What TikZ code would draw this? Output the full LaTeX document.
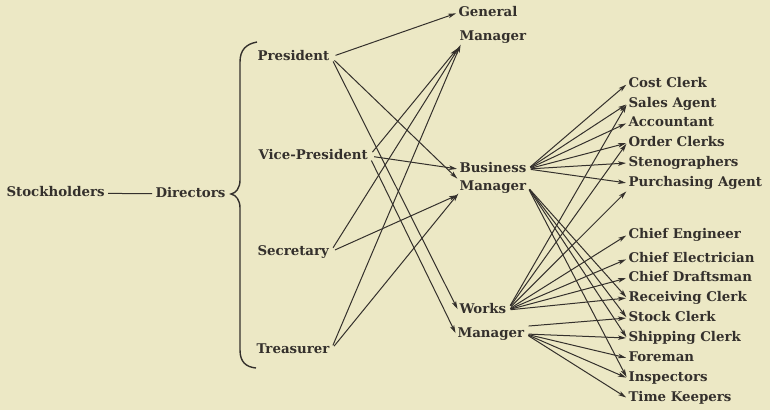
\documentclass[tikz,border=0pt]{standalone}
\usepackage{fontspec}
\setmainfont{DejaVu Serif}
\usetikzlibrary{arrows.meta}
\definecolor{paper}{RGB}{236,232,197}
\definecolor{ink}{RGB}{52,48,44}
\begin{document}
\begin{tikzpicture}[x=1bp,y=-1bp,
  lbl/.style={inner sep=1.5bp, outer sep=0pt, anchor=west, text=ink,
    font=\fontsize{13.4}{15}\selectfont\bfseries, text height=10bp, text depth=2.5bp},
  link/.style={draw=ink, line width=1bp},
  arr/.style={link, -{Stealth[length=8bp,width=4.5bp,inset=2bp]}, shorten >=1bp, shorten <=5bp}]
\fill[paper] (0,0) rectangle (770,410);
\useasboundingbox (0,0) rectangle (770,410);

% owners and board
\node[lbl] (stock) at (5,193) {Stockholders};
\node[lbl] (dirs) at (154,194) {Directors};
\draw[link, shorten <=2bp, shorten >=2bp] (stock) -- (dirs);

% officers
\node[lbl] (pres) at (256,57) {President};
\node[lbl] (vp) at (257,156) {Vice-President};
\node[lbl] (sec) at (256,252) {Secretary};
\node[lbl] (tre) at (255,350) {Treasurer};

% brace gathering the officers
\draw[ink, line width=1.4bp] (257,42) .. controls (246,44) and (240,50) .. (240,62)
  -- (240,180) .. controls (240,188) and (236,193) .. (231,194)
  .. controls (236,195) and (240,200) .. (240,208)
  -- (240,350) .. controls (240,362) and (246,367) .. (256,368);

% managers
\node[lbl] (gm1) at (457,13) {General};
\node[lbl] (gm2) at (458,37) {Manager};
\node[lbl] (bm1) at (458,169) {Business};
\node[lbl] (bm2) at (458,187) {Manager};
\node[lbl] (wm1) at (458,310) {Works};
\node[lbl] (wm2) at (456,334) {Manager};

% office staff
\node[lbl] (cc) at (627,84) {Cost Clerk};
\node[lbl] (sa) at (627,104) {Sales Agent};
\node[lbl] (ac) at (627,123) {Accountant};
\node[lbl] (oc) at (627,143) {Order Clerks};
\node[lbl] (st) at (627,163) {Stenographers};
\node[lbl] (pa) at (627,183) {Purchasing Agent};

% works staff
\node[lbl] (ce) at (627,235) {Chief Engineer};
\node[lbl] (cel) at (627,259) {Chief Electrician};
\node[lbl] (cd) at (627,278) {Chief Draftsman};
\node[lbl] (rc) at (627,298) {Receiving Clerk};
\node[lbl] (sk) at (627,318) {Stock Clerk};
\node[lbl] (sh) at (627,338) {Shipping Clerk};
\node[lbl] (fm) at (627,358) {Foreman};
\node[lbl] (ins) at (627,378) {Inspectors};
\node[lbl] (tk) at (627,398) {Time Keepers};

% officers to managers
\draw[arr] (pres.east) -- (gm1.west);
\draw[arr] (pres.east) -- (bm2.north west);
\draw[arr] (pres.east) -- (wm1.west);
\draw[arr] (vp.east) -- ([yshift=-3bp]gm2.south west);
\draw[arr] (vp.east) -- (bm1.west);
\draw[arr] (vp.east) -- (wm2.west);
\draw[arr] (sec.east) -- ([xshift=2bp,yshift=-1bp]gm2.south west);
\draw[arr] (sec.east) -- (bm2.south west);
\draw[arr] (tre.east) -- ([xshift=3bp,yshift=1bp]gm2.south west);
\draw[arr] (tre.east) -- ([xshift=1bp,yshift=2bp]bm2.south west);

% business manager
\foreach \t in {cc,sa,ac,oc,st,pa}
  \draw[arr, shorten <=3bp] (bm1.east) -- (\t.west);
\foreach \t in {rc,sk,sh,ins}
  \draw[arr, shorten <=3bp] (bm2.east) -- (\t.west);

% works manager
\draw[arr] (wm1.east) -- (sa.west);
\draw[arr] (wm1.east) -- (oc.west);
\draw[arr] (wm1.east) -- (pa.south west);
\foreach \t in {ce,cel,cd,rc}
  \draw[arr, shorten <=3bp] (wm1.east) -- (\t.west);
\draw[arr, shorten <=3bp] (wm2.north east) -- (sk.west);
\foreach \t in {sh,fm,ins,tk}
  \draw[arr, shorten <=3bp] (wm2.east) -- (\t.west);
\end{tikzpicture}
\end{document}
